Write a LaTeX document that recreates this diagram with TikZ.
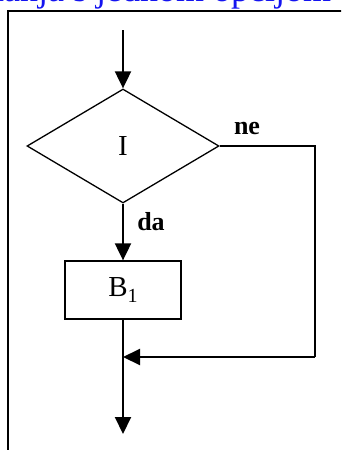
\documentclass[tikz,border=0pt]{standalone}
\usepackage{fontspec}
\setmainfont{Liberation Serif}
\usetikzlibrary{shapes.geometric,arrows.meta}
\definecolor{titleblue}{RGB}{20,20,240}
\begin{document}
\begin{tikzpicture}[x=1pt,y=-1pt,
  mainline/.style={line width=2pt},
  thinline/.style={line width=1.4pt},
  arr/.style={mainline,-{Triangle[length=17pt,width=16pt]}},
  shapeline/.style={draw,line width=1.3pt,inner sep=0pt},
  lbl/.style={font=\fontsize{26}{30}\selectfont\bfseries,inner sep=0pt},
  txt/.style={font=\fontsize{29}{32}\selectfont}]
\useasboundingbox (0,0) rectangle (341,450);
\clip (0,0) rectangle (341,450);
% cropped blue heading
\node[anchor=base west,inner sep=0pt,text=titleblue,font=\fontsize{36}{40}\selectfont] (title) at (-191,1.5) {Naredba grananja s jednom opcijom};
% frame
\draw[line width=2pt] (7.5,460) -- (7.5,10.5) -- (350,10.5);
% nodes
\node[shapeline,diamond,minimum width=192pt,minimum height=114pt,txt] (dia) at (123,146) {I};
\node[shapeline,rectangle,minimum width=116pt,minimum height=58pt,txt] (box) at (123,290) {B\raisebox{-0.18em}{\fontsize{20}{22}\selectfont 1}};
\coordinate (start) at (123,30);
\coordinate (corner) at (315,357);
\coordinate (join) at (123,357);
\coordinate (end) at (123,434);
% connectors
\draw[arr] (start) -- (dia.north);
\draw[arr] (dia.south) -- (box.north);
\draw[arr] (box.south) -- (end);
\draw[thinline] (dia.east) -| (corner);
\draw[arr] (corner) -- (join);
% labels
\node[lbl] (ne) at (247,128) {ne};
\node[lbl] (da) at (151,222) {da};
\end{tikzpicture}
\end{document}
